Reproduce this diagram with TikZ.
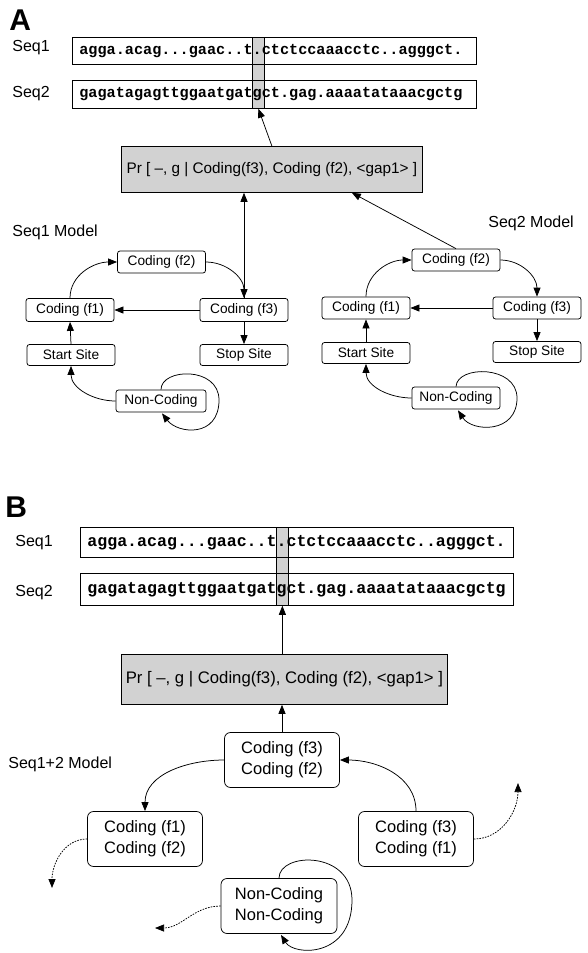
\documentclass[tikz,border=0pt]{standalone}
\usepackage{fontspec}
\setmainfont{Liberation Sans}
\newfontfamily\seqfont{Liberation Mono}
\usetikzlibrary{arrows.meta,calc}
\begin{document}
\begin{tikzpicture}[x=1pt,y=1pt,line width=0.75pt,
  arr/.style={-{Triangle[length=9pt,width=7pt]}},
  darr/.style={-{Triangle[length=9pt,width=7pt]}, dash pattern=on 1.6pt off 1.2pt},
  panel/.style={font=\fontsize{30}{30}\selectfont\bfseries, inner sep=0pt, anchor=base west},
  lab/.style={font=\fontsize{16}{18}\selectfont, inner sep=0pt, anchor=base west},
  seqA/.style={draw, anchor=north west, inner xsep=7pt, inner ysep=0pt, text width=390pt, align=left, font=\fontsize{15.2}{16}\selectfont\seqfont\bfseries},
  seqB/.style={draw, anchor=north west, inner xsep=7pt, inner ysep=0pt, text width=419pt, align=left, font=\fontsize{16.6}{18}\selectfont\seqfont\bfseries},
  colm/.style={draw, fill=gray!35, inner sep=0pt, anchor=north west},
  prbox/.style={draw, fill=gray!35, inner sep=0pt, anchor=north west},
  sbox/.style={draw, rounded corners=2.5pt, inner sep=0pt, minimum width=88pt, minimum height=22pt, font=\fontsize{13.7}{15}\selectfont},
  bbox/.style={draw, rounded corners=6pt, inner sep=0pt, align=center, minimum width=115pt, minimum height=55pt, font=\fontsize{16.5}{21}\selectfont},
]
\useasboundingbox (0,0) rectangle (587,-953);

% ---------------- Panel A ----------------
\node[panel] (labA) at (9,-30) {A};
\node[lab] (aseq1) at (12,-51) {Seq1};
\node[lab] (aseq2) at (12,-97) {Seq2};
\node[colm, minimum width=12pt, minimum height=71pt] (colA) at (252,-37) {};
\node[seqA, minimum height=27pt] (sqA1) at (72,-37) {agga.acag...gaac..t.ctctccaaacctc..agggct.};
\node[seqA, minimum height=28pt] (sqA2) at (72,-80) {gagatagagttggaatgatgct.gag.aaaatataaacgctg};
\node[prbox, minimum width=301pt, minimum height=46pt, font=\fontsize{15.3}{17}\selectfont] (pra) at (121,-146) {Pr [ –, g | Coding(f3), Coding (f2), <gap1> ]};
\draw[arr] (pra.north) -- (colA.south);

\node[lab] (m1) at (12,-236) {Seq1 Model};
\node[lab] (m2) at (488,-227) {Seq2 Model};

% Seq1 model
\node[sbox] (s1f2) at (161.5,-262) {Coding (f2)};
\node[sbox, minimum height=23pt] (s1f1) at (70,-310) {Coding (f1)};
\node[sbox, minimum height=23pt] (s1f3) at (244,-310) {Coding (f3)};
\node[sbox, minimum height=21pt] (s1start) at (71,-355) {Start Site};
\node[sbox, minimum height=21pt] (s1stop) at (244,-355) {Stop Site};
\node[sbox, minimum width=90pt] (s1nc) at (161,-401) {Non-Coding};

\draw[arr] (s1f1.north) to[out=90,in=180] (s1f2.west);
\draw[arr] (s1f2.east) to[out=0,in=90] (s1f3.north);
\draw[arr] (s1f3.west) -- (s1f1.east);
\draw[arr] (s1f3.south) -- (s1stop.north);
\draw[arr] (s1start.north) -- (s1f1.south);
\draw[arr] (s1nc.west) to[out=180,in=-90] (s1start.south);
\draw[arr] (s1nc.north) .. controls (161,-368) and (219,-366) .. (219,-400) .. controls (219,-438) and (178,-434) .. ($(s1nc.south)+(1,-1)$);
\draw[arr] (s1f3.north) -- (s1f3.north |- pra.south);

% Seq2 model
\node[sbox] (s2f2) at (456,-260) {Coding (f2)};
\node[sbox] (s2f1) at (366,-308) {Coding (f1)};
\node[sbox] (s2f3) at (537,-308) {Coding (f3)};
\node[sbox, minimum height=21pt] (s2start) at (366,-353) {Start Site};
\node[sbox, minimum height=21pt] (s2stop) at (537,-352) {Stop Site};
\node[sbox] (s2nc) at (456,-398) {Non-Coding};

\draw[arr] (s2f1.north) to[out=90,in=180] (s2f2.west);
\draw[arr] (s2f2.east) to[out=0,in=90] (s2f3.north);
\draw[arr] (s2f3.west) -- (s2f1.east);
\draw[arr] (s2f3.south) -- (s2stop.north);
\draw[arr] (s2start.north) -- (s2f1.south);
\draw[arr] (s2nc.west) to[out=180,in=-90] (s2start.south);
\draw[arr] (s2nc.north) .. controls (457,-365) and (517,-365) .. (517,-398) .. controls (517,-434) and (472,-432) .. ($(s2nc.south)+(2,-1)$);
\draw[arr] (s2f2.north) -- ($(pra.south west)!0.765!(pra.south east)$);

% ---------------- Panel B ----------------
\node[panel] (labB) at (5,-517) {B};
\node[lab] (bseq1) at (15,-546) {Seq1};
\node[lab] (bseq2) at (15,-596) {Seq2};
\node[colm, minimum width=12pt, minimum height=78pt] (colB) at (276,-527) {};
\node[seqB, minimum height=30pt] (sqB1) at (80,-527) {agga.acag...gaac..t.ctctccaaacctc..agggct.};
\node[seqB, minimum height=32pt] (sqB2) at (80,-573) {gagatagagttggaatgatgct.gag.aaaatataaacgctg};
\node[prbox, minimum width=326pt, minimum height=50pt, font=\fontsize{16.7}{19}\selectfont] (prb) at (121,-654) {Pr [ –, g | Coding(f3), Coding (f2), <gap1> ]};
\draw[arr] (colB.south |- prb.north) -- (colB.south);

\node[lab] (m12) at (8,-768) {Seq1+2 Model};

\node[bbox] (bf32) at (282,-760) {Coding (f3)\\Coding (f2)};
\node[bbox] (bf12) at (145,-839) {Coding (f1)\\Coding (f2)};
\node[bbox] (bf31) at (416,-839) {Coding (f3)\\Coding (f1)};
\node[bbox, minimum width=116pt] (bnc) at (279,-906) {Non-Coding\\Non-Coding};

\coordinate (e1) at (52,-888);
\coordinate (e2) at (518,-783);
\coordinate (e3) at (155,-928);

\draw[arr] (bf32.north) -- (bf32.north |- prb.south);
\draw[arr] (bf32.west) to[out=180,in=90] (bf12.north);
\draw[arr] (bf31.north) to[out=90,in=0] (bf32.east);
\draw[darr] (bf12.west) to[out=180,in=90] (e1);
\draw[darr] (bf31.east) to[out=0,in=-90] (e2);
\draw[darr] (bnc.west) to[out=180,in=0] (e3);
\draw[arr] (bnc.north) .. controls (279,-852) and (352,-850) .. (352,-900) .. controls (352,-958) and (294,-956) .. ($(bnc.south)+(2,-1)$);
\end{tikzpicture}
\end{document}
